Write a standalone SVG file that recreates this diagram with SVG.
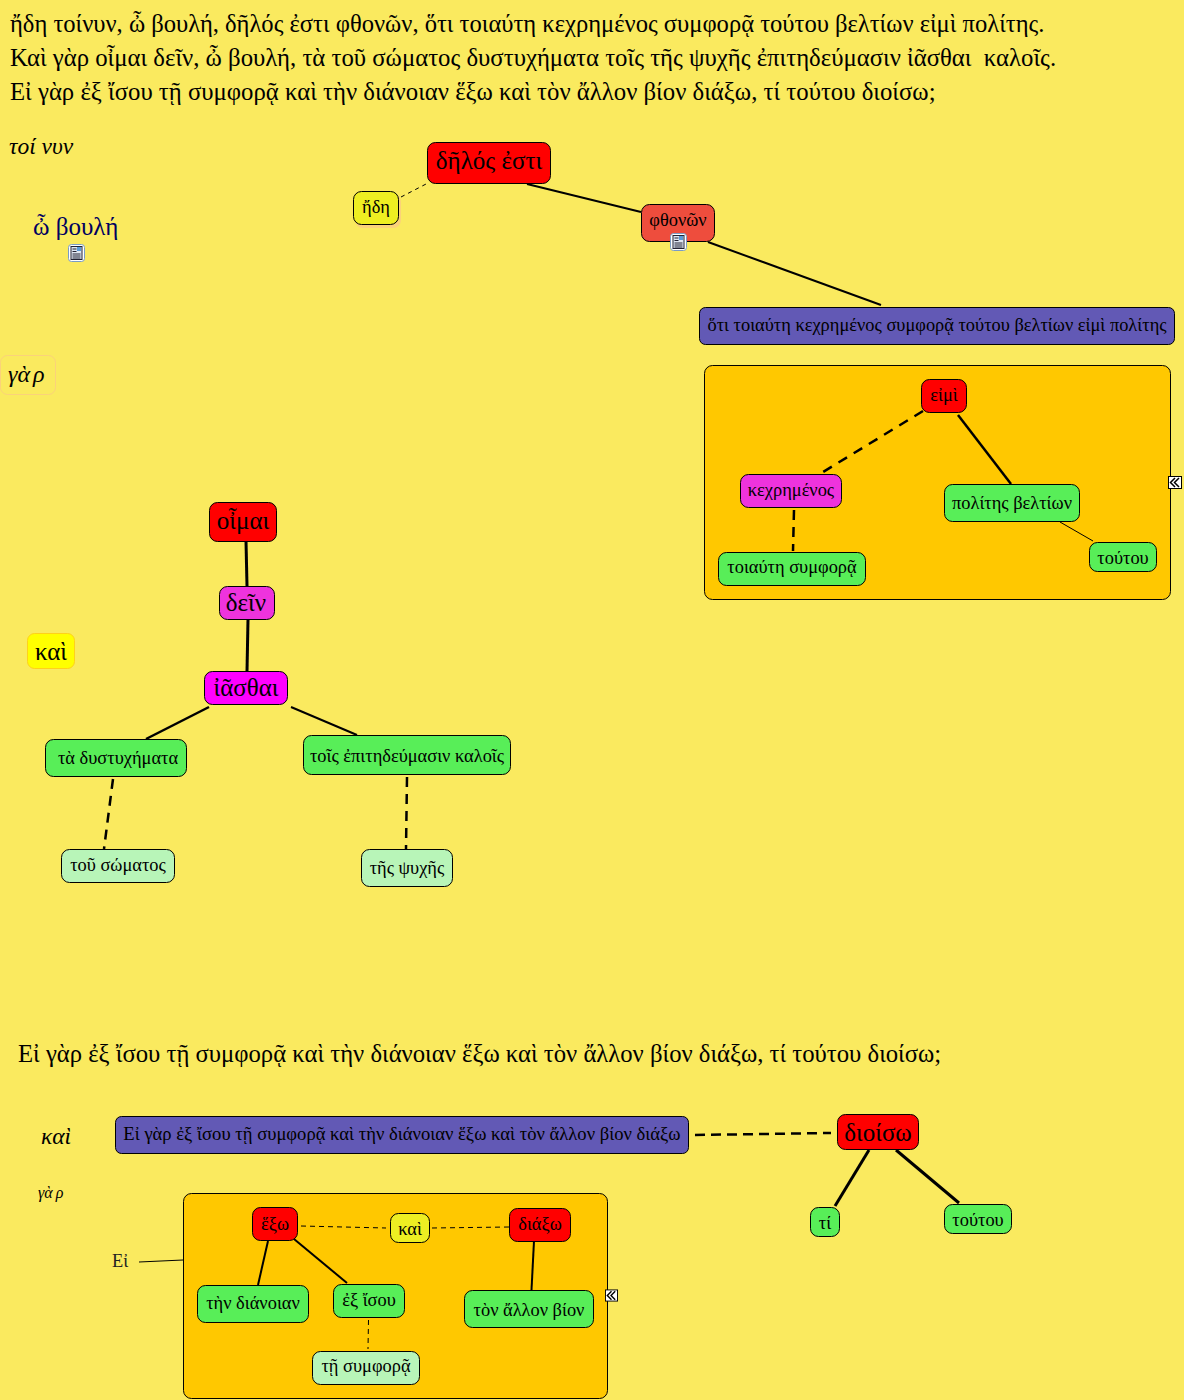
<svg xmlns="http://www.w3.org/2000/svg" width="1184" height="1400" viewBox="0 0 1184 1400">
<style>
text{font-family:"Liberation Serif","Noto Sans",serif;fill:#000}
.n{stroke:#000;stroke-width:1}
.red{fill:#ff0000}.mag{fill:#ee33dd}.fu{fill:#ff00ff}.gr{fill:#58ee58}.lg{fill:#b8f5b8}.pu{fill:#6259b5}.ye{fill:#eeee22}.or{fill:#ffc800}
.c{fill:none;stroke:#000;stroke-linecap:butt}
.m{text-anchor:middle}
.t{font-size:24.750px}.l{font-size:25px}.s{font-size:18.400px}
</style>
<defs>
<symbol id="note" viewBox="0 0 17 18" overflow="visible">
<rect x="0.5" y="0.5" width="16" height="17" rx="3" fill="#fff" stroke="#7a9cc6"/>
<rect x="3" y="2.5" width="11" height="13" fill="#dfe6f2" stroke="#223"/>
<rect x="9" y="3" width="4" height="4" fill="#5a9ad8"/>
<path d="M4.500 5h4M4.500 7.500h4M4.500 10h8M4.500 12h8M4.500 14h8" stroke="#223" fill="none"/>
</symbol>
<symbol id="collapse" viewBox="0 0 14 13" overflow="visible">
<rect x="0.5" y="0.5" width="13" height="12" fill="#fff" stroke="#000"/>
<path d="M7 2L2.500 6.500L7 11M11 2L6.500 6.500L11 11" fill="none" stroke="#000" stroke-width="1.500"/>
</symbol>
</defs>
<rect width="1184" height="1400" fill="#faea5f"/>

<g id="texts">
<text x="10" y="32" style="font-size:24.580px">ἤδη τοίνυν, ὦ βουλή, δῆλός ἐστι φθονῶν, ὅτι τοιαύτη κεχρημένος συμφορᾷ τούτου βελτίων εἰμὶ πολίτης.</text>
<text x="10" y="66" class="t" xml:space="preserve">Καὶ γὰρ οἶμαι δεῖν, ὦ βουλή, τὰ τοῦ σώματος δυστυχήματα τοῖς τῆς ψυχῆς ἐπιτηδεύμασιν ἰᾶσθαι  καλοῖς.</text>
<text x="10" y="100" class="t">Εἰ γὰρ ἐξ ἴσου τῇ συμφορᾷ καὶ τὴν διάνοιαν ἕξω καὶ τὸν ἄλλον βίον διάξω, τί τούτου διοίσω;</text>
<text x="18" y="1062" style="font-size:24.700px">Εἰ γὰρ ἐξ ἴσου τῇ συμφορᾷ καὶ τὴν διάνοιαν ἕξω καὶ τὸν ἄλλον βίον διάξω, τί τούτου διοίσω;</text>
</g>

<g id="n-toinyn"><text x="9" y="154" font-size="23.500" font-style="italic">τοί νυν</text></g>
<g id="n-boule"><text x="33" y="235" font-size="25" style="fill:#000060">ὦ βουλή</text><use href="#note" x="68" y="244" width="17" height="18"/></g>
<g id="n-gar1"><rect x="0.500" y="355.500" width="55" height="39" rx="7" fill="#faea5f" stroke="#fbd27a"/><text x="8" y="382" font-size="24" font-style="italic">γὰ<tspan dx="3">ρ</tspan></text></g>
<g id="n-kai1"><rect x="27.500" y="633.500" width="47" height="35" rx="7" fill="#ffff00" stroke="#ffd11a"/><text x="51" y="660" class="l m">καὶ</text></g>
<g id="n-kai2"><text x="41" y="1144" font-size="23.500" font-style="italic">καὶ</text></g>
<g id="n-gar2"><text x="38" y="1198" font-size="16" font-style="italic">γὰ<tspan dx="3">ρ</tspan></text></g>
<g id="n-ei"><text x="112" y="1267" font-size="18.400" style="fill:#222">Εἰ</text></g>

<g id="containers">
<rect class="n or" x="704.500" y="365.500" width="466" height="234" rx="8"/>
<rect class="n or" x="183.500" y="1193.500" width="424" height="205" rx="8"/>
</g>

<g id="connectors">
<path class="c" stroke-width="1" stroke-dasharray="4 4" d="M401 197L428 183"/>
<path class="c" stroke-width="2" d="M527 184L641 212"/>
<path class="c" stroke-width="2" d="M708 242L881 305"/>
<path class="c" stroke-width="2.500" stroke-dasharray="10 7.800" d="M923 411L823 472"/>
<path class="c" stroke-width="2.500" d="M958 415L1011 484"/>
<path class="c" stroke-width="1" d="M1060 522L1093 541"/>
<path class="c" stroke-width="2.500" stroke-dasharray="10 7" d="M794 510L793 551"/>
<path class="c" stroke-width="3" d="M246 541L247 586"/>
<path class="c" stroke-width="3" d="M248 620L247 671"/>
<path class="c" stroke-width="2.500" d="M209 707L146 739"/>
<path class="c" stroke-width="2" d="M291 707L357 735"/>
<path class="c" stroke-width="2.500" stroke-dasharray="10 7" d="M113 779L104 849"/>
<path class="c" stroke-width="2.500" stroke-dasharray="10 7" d="M407 777L406 849"/>
<path class="c" stroke-width="2.500" stroke-dasharray="10 6" d="M695 1135L831 1133"/>
<path class="c" stroke-width="3" d="M869 1150L835 1206"/>
<path class="c" stroke-width="3" d="M896 1150L959 1203"/>
<path class="c" stroke-width="1" d="M139 1262L183 1260"/>
<path class="c" stroke-width="1" stroke-dasharray="5 4" d="M301 1226L386 1228"/>
<path class="c" stroke-width="1" stroke-dasharray="5 4" d="M432 1228L509 1227"/>
<path class="c" stroke-width="2" d="M268 1241L258 1285"/>
<path class="c" stroke-width="2" d="M294 1239L347 1283"/>
<path class="c" stroke-width="2" d="M534 1241L531.500 1290"/>
<path class="c" stroke-width="1" stroke-dasharray="5 4" d="M368.500 1320L368 1349"/>
</g>

<g id="n-delos"><rect x="427.500" y="142.500" width="123" height="41" rx="8" fill="#ff0000" class="n"/><text x="489" y="169" class="l m">δῆλός ἐστι</text></g>
<g id="n-ede"><rect x="355" y="194" width="46" height="34" rx="8" fill="#fbd27a"/><rect x="353.500" y="191.500" width="45" height="33" rx="8" class="n ye"/><text x="376" y="213" class="s m">ἤδη</text></g>
<g id="n-phthonon"><rect x="641.500" y="204.500" width="73" height="37" rx="8" fill="#ee4d3d" class="n"/><text x="678" y="226" class="s m">φθονῶν</text><use href="#note" x="670" y="233" width="17" height="18"/></g>
<g id="n-hoti"><rect x="699.500" y="307.500" width="475" height="37" rx="6" class="n pu"/><text x="937" y="331" class="s m">ὅτι τοιαύτη κεχρημένος συμφορᾷ τούτου βελτίων εἰμὶ πολίτης</text></g>
<g id="n-eimi"><rect x="921.500" y="379.500" width="45" height="33" rx="8" class="n red"/><text x="944" y="401" class="s m">εἰμὶ</text></g>
<g id="n-kechremenos"><rect x="740.500" y="474.500" width="101" height="33" rx="8" class="n mag"/><text x="791" y="496" class="s m">κεχρημένος</text></g>
<g id="n-toiaute"><rect x="718.500" y="552.500" width="147" height="33" rx="8" class="n gr"/><text x="792" y="573" class="s m">τοιαύτη συμφορᾷ</text></g>
<g id="n-polites"><rect x="944.500" y="484.500" width="135" height="37" rx="8" class="n gr"/><text x="1012" y="509" class="s m">πολίτης βελτίων</text></g>
<g id="n-toutou1"><rect x="1089.500" y="542.500" width="67" height="29" rx="8" class="n gr"/><text x="1123" y="564" class="s m">τούτου</text></g>
<use href="#collapse" x="1168" y="476" width="14" height="13"/>

<g id="n-oimai"><rect x="209.500" y="502.500" width="67" height="39" rx="8" class="n red"/><text x="243" y="529" class="l m">οἶμαι</text></g>
<g id="n-dein"><rect x="219.500" y="586.500" width="55" height="33" rx="8" class="n mag"/><text x="246" y="611" class="l m">δεῖν</text></g>
<g id="n-iasthai"><rect x="204.500" y="671.500" width="83" height="33" rx="8" class="n fu"/><text x="246" y="696" class="l m">ἰᾶσθαι</text></g>
<g id="n-dystychemata"><rect x="45.500" y="739.500" width="141" height="37" rx="8" class="n gr"/><text x="118" y="764" class="s m">τὰ δυστυχήματα</text></g>
<g id="n-epitedeumasin"><rect x="303.500" y="735.500" width="207" height="39" rx="8" class="n gr"/><text x="407" y="762" class="s m">τοῖς ἐπιτηδεύμασιν καλοῖς</text></g>
<g id="n-somatos"><rect x="61.500" y="849.500" width="113" height="33" rx="8" class="n lg"/><text x="118" y="871" class="s m">τοῦ σώματος</text></g>
<g id="n-psyches"><rect x="361.500" y="849.500" width="91" height="37" rx="8" class="n lg"/><text x="407" y="874" class="s m">τῆς ψυχῆς</text></g>

<g id="n-eigar"><rect x="115.500" y="1116.500" width="573" height="37" rx="6" class="n pu"/><text x="402" y="1140" style="font-size:18.630px" class="m">Εἰ γὰρ ἐξ ἴσου τῇ συμφορᾷ καὶ τὴν διάνοιαν ἕξω καὶ τὸν ἄλλον βίον διάξω</text></g>
<g id="n-dioiso"><rect x="837.500" y="1114.500" width="81" height="35" rx="8" class="n red"/><text x="878" y="1141" class="l m">διοίσω</text></g>
<g id="n-ti"><rect x="810.500" y="1207.500" width="29" height="29" rx="8" class="n gr"/><text x="825" y="1229" class="s m">τί</text></g>
<g id="n-toutou2"><rect x="944.500" y="1204.500" width="67" height="29" rx="8" class="n gr"/><text x="978" y="1226" class="s m">τούτου</text></g>
<g id="n-exo"><rect x="252.500" y="1207.500" width="45" height="33" rx="8" class="n red"/><text x="275" y="1230" class="s m">ἕξω</text></g>
<g id="n-kai3"><rect x="390.500" y="1213.500" width="39" height="29" rx="8" class="n ye"/><text x="410" y="1235" class="s m">καὶ</text></g>
<g id="n-diaxo"><rect x="509.500" y="1208.500" width="61" height="33" rx="8" class="n red"/><text x="540" y="1230" class="s m">διάξω</text></g>
<g id="n-dianoian"><rect x="197.500" y="1285.500" width="111" height="37" rx="8" class="n gr"/><text x="253" y="1309" class="s m">τὴν διάνοιαν</text></g>
<g id="n-exisou"><rect x="333.500" y="1284.500" width="71" height="33" rx="8" class="n gr"/><text x="369" y="1306" class="s m">ἐξ ἴσου</text></g>
<g id="n-allon"><rect x="464.500" y="1290.500" width="129" height="37" rx="8" class="n gr"/><text x="529" y="1316" class="s m">τὸν ἄλλον βίον</text></g>
<g id="n-symphora"><rect x="312.500" y="1351.500" width="107" height="33" rx="8" class="n lg"/><text x="366" y="1372" class="s m">τῇ συμφορᾷ</text></g>
<use href="#collapse" x="605" y="1289" width="13" height="13"/>
</svg>
